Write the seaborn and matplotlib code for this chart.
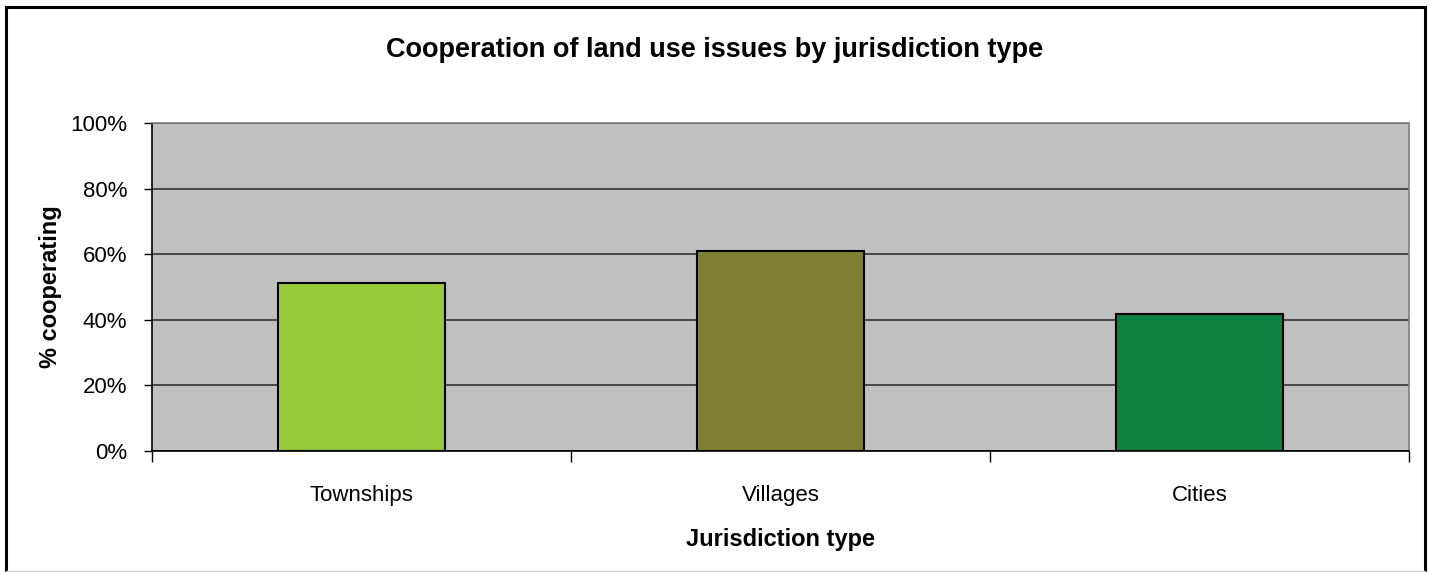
import matplotlib
matplotlib.use("Agg")
import matplotlib.pyplot as plt
from matplotlib.patches import Rectangle
from matplotlib.lines import Line2D
from matplotlib.ticker import PercentFormatter, FixedLocator
import seaborn as sns
import pandas as pd

# date
jurisdictions = ["Townships", "Villages", "Cities"]
pct_cooperating = [51.3, 61.1, 41.7]
bar_colors = ["#99CA3C", "#808034", "#0E8040"]

df = pd.DataFrame({"type": jurisdictions, "pct": pct_cooperating})

sns.set_theme(style="white")
plt.rcParams["font.family"] = ["Liberation Sans", "DejaVu Sans"]
plt.rcParams["text.color"] = "black"
plt.rcParams["axes.labelcolor"] = "black"

fig = plt.figure(figsize=(14.3, 5.72), dpi=100)
ax = fig.add_axes([152 / 1430, 1 - 451 / 572, (1409 - 152) / 1430, (451 - 123) / 572])
ax.set_facecolor("#C0C0C0")

sns.barplot(data=df, x="type", y="pct", hue="type", palette=bar_colors, saturation=1,
            width=0.4, edgecolor="black", linewidth=1.5, legend=False, ax=ax, zorder=3)

ax.set_ylim(0, 100)
ax.set_xlim(-0.5, 2.5)
ax.set_yticks(range(0, 101, 20))
ax.yaxis.set_major_formatter(PercentFormatter(decimals=0))
ax.grid(axis="y", color="#333333", linewidth=1.2, zorder=0)
ax.set_axisbelow(True)

# tick-uri intre categorii pe axa x
ax.xaxis.set_minor_locator(FixedLocator([-0.5, 0.5, 1.5, 2.5]))
ax.tick_params(axis="x", which="major", length=0, pad=32, labelsize=16, labelcolor="black")
ax.tick_params(axis="x", which="minor", length=8, width=1, color="black", bottom=True)
ax.tick_params(axis="y", which="major", length=6, width=1, color="black", left=True,
               pad=12, labelsize=16, labelcolor="black")
for lbl in ax.get_xticklabels():
    lbl.set_va("center")

for side in ["left", "bottom"]:
    ax.spines[side].set_color("black")
    ax.spines[side].set_linewidth(1.2)
for side in ["top", "right"]:
    ax.spines[side].set_color("#808080")
    ax.spines[side].set_linewidth(1.2)

ax.set_xlabel("Jurisdiction type", fontsize=17, fontweight="bold", labelpad=16)
ax.set_ylabel("% cooperating", fontsize=17, fontweight="bold", labelpad=6)

fig.text(0.5, 1 - 50 / 572, "Cooperation of land use issues by jurisdiction type",
         ha="center", va="center", fontsize=19.5, fontweight="bold")

# chenarul exterior
fig.patches.append(Rectangle((6 / 1430, -0.05), (1425 - 6) / 1430, 1.05 - 7 / 572,
                             transform=fig.transFigure, fill=False,
                             edgecolor="black", linewidth=2.2))
fig.lines.append(Line2D([6 / 1430, 1425 / 1430], [1 - 571 / 572] * 2,
                        transform=fig.transFigure, color="#D0D0D0", linewidth=1))

fig.savefig("out.png", dpi=100)
